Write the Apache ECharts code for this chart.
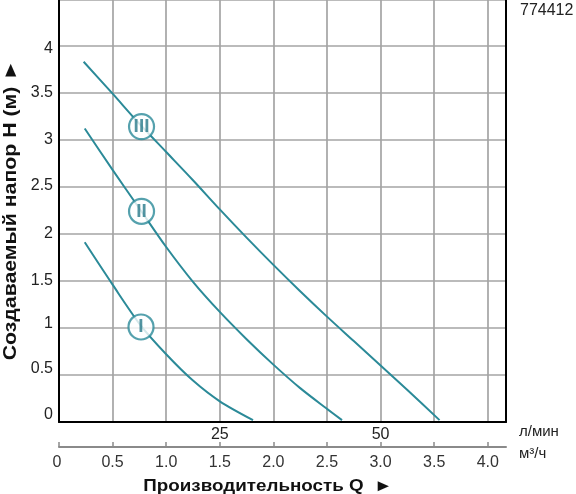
<!DOCTYPE html>
<html>
<head>
<meta charset="utf-8">
<script src="https://cdn.jsdelivr.net/npm/echarts@6/dist/echarts.min.js"></script>
<style>
html,body{margin:0;padding:0;background:#fff;}
#c{width:576px;height:494px;}
</style>
</head>
<body>
<div id="c"></div>
<script>
// Curve data: flow Q (m³/h) and head H (m)
var q1 = [0.24, 0.5, 0.76, 1.0, 1.25, 1.5, 1.81];
var h1 = [1.91, 1.46, 1.03, 0.72, 0.44, 0.22, 0.02];
var q2 = [0.24, 0.5, 0.75, 1.0, 1.25, 1.5, 1.75, 2.0, 2.25, 2.5, 2.64];
var h2 = [3.12, 2.68, 2.27, 1.86, 1.49, 1.17, 0.88, 0.61, 0.36, 0.14, 0.02];
var q3 = [0.23, 0.5, 0.75, 1.0, 1.25, 1.5, 1.75, 2.0, 2.25, 2.5, 2.75, 3.0, 3.25, 3.55];
var h3 = [3.83, 3.49, 3.17, 2.87, 2.57, 2.26, 1.96, 1.67, 1.39, 1.12, 0.86, 0.6, 0.34, 0.02];
// Curve markers (Roman numerals)
var markerNames = ['I', 'II', 'III'];
var markerQ = [0.765, 0.77, 0.77];
var markerH = [1.01, 2.24, 3.14];
// Axis ranges / ticks
var qMax = 4.17, hMax = 4.486, tickStep = 0.5;
var lpmTicks = [25, 50];
var modelCode = '774412';

function pairs(xs, ys){ return xs.map(function(x,i){ return [x, ys[i]]; }); }

var teal = '#2b8a98';
var tealDark = '#28798a';
var gridColor = '#a4a4a4';
var font = 'Liberation Sans, Arial, sans-serif';

var chart = echarts.init(document.getElementById('c'), null, {renderer:'canvas'});

var lineSeries = [pairs(q1,h1), pairs(q2,h2), pairs(q3,h3)].map(function(d){
  return {type:'line', data:d, smooth:0.3, showSymbol:false, symbol:'none',
    lineStyle:{color:teal, width:2}, xAxisIndex:0, yAxisIndex:0, z:3, silent:true};
});

var markerData = markerNames.map(function(n,i){
  return {value:[markerQ[i], markerH[i]], name:n};
});

var lblBase = {fontSize:16, color:'#222', fontFamily:font};
function rs(pad){ return Object.assign({padding:pad}, lblBase); }

var option = {
  animation:false,
  grid:{left:59, right:70, top:0, bottom:72, containLabel:false},
  xAxis:[
    {type:'value', min:0, max:qMax, interval:tickStep, position:'bottom',
     axisLine:{show:true, onZero:false, lineStyle:{color:'#000', width:2}},
     axisTick:{show:false}, axisLabel:{show:false},
     splitLine:{show:true, lineStyle:{color:gridColor, width:1.7}}},
    {type:'value', min:0, max:qMax*50/3, interval:25, position:'bottom',
     axisLine:{show:false}, axisTick:{show:false}, splitLine:{show:false},
     axisLabel:{show:true, margin:5, color:'#222', fontSize:16, fontFamily:font,
       showMinLabel:false, showMaxLabel:false,
       formatter:function(v){ return lpmTicks.indexOf(v)>=0 ? String(v) : ''; }}},
    {type:'value', min:0, max:qMax, interval:tickStep, position:'bottom', offset:25,
     axisLine:{show:true, onZero:false, lineStyle:{color:'#8a8a8a', width:2}},
     axisTick:{show:true, inside:true, length:5, lineStyle:{color:'#8a8a8a', width:1.5}},
     splitLine:{show:false},
     axisLabel:{show:true, margin:8, color:'#333', fontSize:16, fontFamily:font, showMaxLabel:false,
       rich:{z:{padding:[0,4,6,0], fontSize:16, color:'#333', fontFamily:font}},
       formatter:function(v){ return v===0 ? '{z|0}' : v.toFixed(1); }}}
  ],
  yAxis:[
    {type:'value', min:0, max:hMax, interval:tickStep, position:'left',
     axisLine:{show:true, onZero:false, lineStyle:{color:'#000', width:2}},
     axisTick:{show:false},
     axisLabel:{show:true, margin:6, color:'#222', fontSize:16, fontFamily:font, showMaxLabel:false,
       rich:{u7:rs([0,0,14,0]), u6:rs([0,0,12,0]), u4:rs([0,0,8,0]), u2:rs([0,0,3,0]), d3:rs([5,0,0,0])},
       formatter:function(v){
         var s = String(v);
         if (v===0) return '{u7|'+s+'}';
         if (v===0.5) return '{u6|'+s+'}';
         if (v===1) return '{u4|'+s+'}';
         if (v===2.5) return '{u2|'+s+'}';
         if (v===4) return '{d3|'+s+'}';
         return s;
       }},
     splitLine:{show:true, lineStyle:{color:gridColor, width:1.7}}},
    {type:'value', min:0, max:hMax, interval:tickStep, position:'right',
     axisLine:{show:true, onZero:false, lineStyle:{color:'#000', width:2}},
     axisTick:{show:false}, axisLabel:{show:false}, splitLine:{show:false}}
  ],
  series: lineSeries.concat([{
    type:'scatter', data:markerData, symbol:'circle', symbolSize:25, z:5, silent:true,
    xAxisIndex:0, yAxisIndex:0,
    itemStyle:{color:'#fff', borderColor:teal, borderWidth:2.2},
    label:{show:true, position:'inside', formatter:'{b}', color:tealDark,
      fontSize:19, fontWeight:'bold', fontFamily:font}
  }]),
  graphic:[
    {type:'text', left:520, top:3, style:{text:modelCode, fontSize:16, fill:'#222', fontFamily:font}},
    {type:'text', left:519, top:424, style:{text:'л/мин', fontSize:15, fill:'#222', fontFamily:font}},
    {type:'text', left:519, top:446, style:{text:'м³/ч', fontSize:15, fill:'#222', fontFamily:font}},
    {type:'text', x:268, y:486, scaleX:1.14, style:{text:'Производительность Q  ►', fontSize:16.5, fontWeight:'bold',
      fill:'#111', fontFamily:font, align:'center', verticalAlign:'middle'}},
    {type:'text', x:11, y:210, rotation:Math.PI/2, scaleX:1.15, style:{text:'Создаваемый напор H (м) ►', fontSize:18.5,
      fontWeight:'bold', fill:'#111', fontFamily:font, align:'center', verticalAlign:'middle'}}
  ]
};
chart.setOption(option);
</script>
</body>
</html>
